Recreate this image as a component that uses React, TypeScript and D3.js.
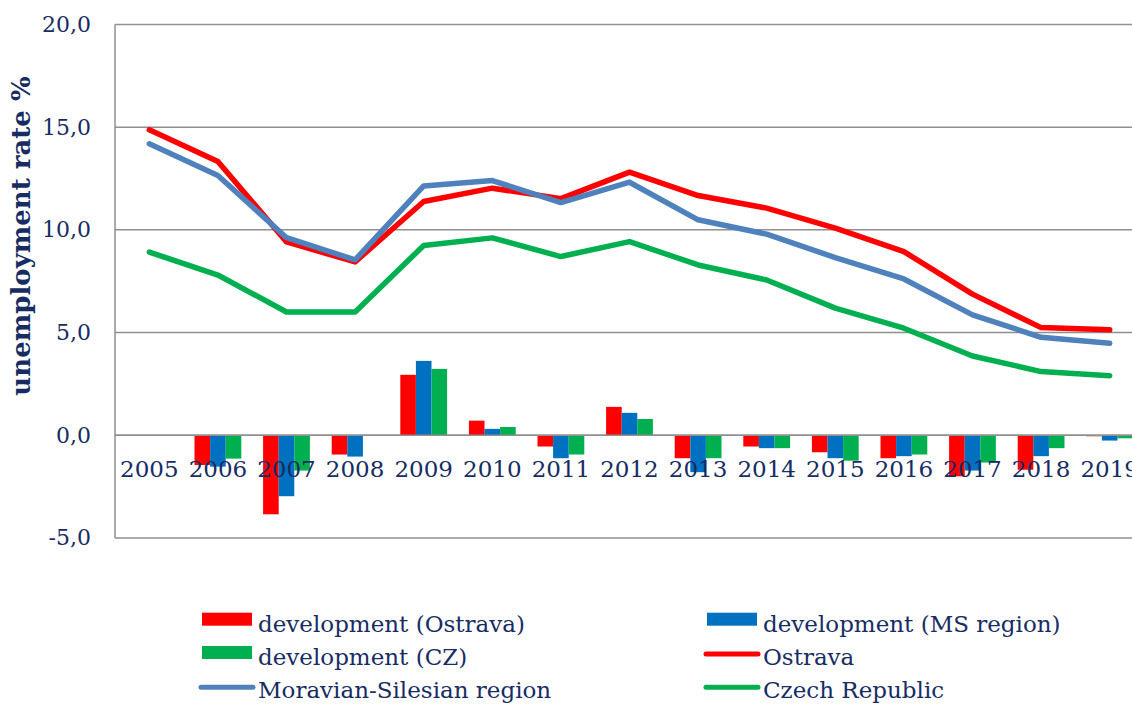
import React from "react";
import * as d3 from "d3";

const years = ["2005","2006","2007","2008","2009","2010","2011","2012","2013","2014","2015","2016","2017","2018","2019"];
const ostrava = [14.87, 13.33, 9.41, 8.44, 11.38, 12.03, 11.52, 12.81, 11.67, 11.06, 10.08, 8.94, 6.87, 5.24, 5.13];
const msRegion = [14.19, 12.65, 9.62, 8.54, 12.14, 12.4, 11.33, 12.32, 10.49, 9.79, 8.65, 7.61, 5.86, 4.77, 4.48];
const czech = [8.92, 7.8, 6.0, 6.0, 9.24, 9.61, 8.7, 9.43, 8.29, 7.56, 6.19, 5.21, 3.86, 3.1, 2.9];
const devOstrava = [0, -1.45, -3.85, -0.94, 2.94, 0.71, -0.55, 1.38, -1.12, -0.55, -0.83, -1.12, -2.0, -1.68, -0.05];
const devMS = [0, -1.53, -2.97, -1.04, 3.62, 0.31, -1.12, 1.09, -1.8, -0.63, -1.12, -1.02, -1.72, -1.02, -0.26];
const devCZ = [0, -1.14, -1.72, 0, 3.23, 0.4, -0.94, 0.79, -1.12, -0.63, -1.24, -0.94, -1.33, -0.63, -0.15];
const yTicks = [-5, 0, 5, 10, 15, 20];

const TEXT = "#172c63";
const FONT = "'DejaVu Serif', serif";
const GRID = "#8f8f8f";

const barSeries = [
  { name: "development (Ostrava)", values: devOstrava, color: "#ff0000" },
  { name: "development (MS region)", values: devMS, color: "#0070c0" },
  { name: "development (CZ)", values: devCZ, color: "#00b050" },
];
const lineSeries = [
  { name: "Ostrava", values: ostrava, color: "#ff0000" },
  { name: "Moravian-Silesian region", values: msRegion, color: "#4f81bd" },
  { name: "Czech Republic", values: czech, color: "#00b050" },
];

export default function App() {
  const W = 1132, H = 704;
  const left = 115;
  const bandW = 68.6;
  const x = d3.scaleBand<string>().domain(years).range([left, left + bandW * years.length]).paddingInner(0).paddingOuter(0);
  const y = d3.scaleLinear().domain([-5, 20]).range([537.9, 24.5]);
  const groupPad = 0.159;
  const xInner = d3.scaleBand<number>().domain([0, 1, 2]).range([x.bandwidth() * groupPad, x.bandwidth() * (1 - groupPad)]).padding(0);
  const fmt = (v: number) => d3.format(".1f")(v).replace(".", ",").replace("\u2212", "-");

  const lineGen = (vals: number[]) =>
    d3.line<number>().x((_, i) => (x(years[i]) as number) + x.bandwidth() / 2).y((v) => y(v))(vals) || "";

  const legendItems = [
    { kind: "bar", s: barSeries[0], col: 0, row: 0 },
    { kind: "bar", s: barSeries[1], col: 1, row: 0 },
    { kind: "bar", s: barSeries[2], col: 0, row: 1 },
    { kind: "line", s: lineSeries[0], col: 1, row: 1 },
    { kind: "line", s: lineSeries[1], col: 0, row: 2 },
    { kind: "line", s: lineSeries[2], col: 1, row: 2 },
  ];
  const colX = [202, 707];
  const rowBase = [631.7, 665, 698.3];

  return (
    <svg width={W} height={H} style={{ position: "absolute", left: 0, top: 0, background: "#fff" }} fontFamily={FONT}>
      {yTicks.map((t) => (
        <line key={t} x1={left} x2={W + 20} y1={y(t)} y2={y(t)} stroke={GRID} strokeWidth={1.5} />
      ))}
      <line x1={left} x2={left} y1={y(20)} y2={y(-5)} stroke={GRID} strokeWidth={1.5} />
      {yTicks.map((t) => (
        <text key={t} x={91} y={y(t) + 7.5} textAnchor="end" fontSize={22} fill={TEXT}>{fmt(t)}</text>
      ))}
      {barSeries.map((s, si) =>
        s.values.map((v, i) => {
          const bx = (x(years[i]) as number) + (xInner(si) as number);
          const y0 = y(0), y1 = y(v);
          return (
            <rect key={s.name + i} x={bx} width={xInner.bandwidth()} y={Math.min(y0, y1)} height={Math.abs(y1 - y0)} fill={s.color} />
          );
        })
      )}
      <line x1={left} x2={W + 20} y1={y(0)} y2={y(0)} stroke={GRID} strokeWidth={1.5} />
      {years.map((yr) => (
        <text key={yr} x={(x(yr) as number) + x.bandwidth() / 2} y={477} textAnchor="middle" fontSize={23} fill={TEXT}>{yr}</text>
      ))}
      {lineSeries.map((s) => (
        <path key={s.name} d={lineGen(s.values)} fill="none" stroke={s.color} strokeWidth={5.5} strokeLinejoin="round" strokeLinecap="round" />
      ))}
      <text transform={`translate(30,236) rotate(-90)`} textAnchor="middle" fontSize={26} fontWeight="bold" fill={TEXT}>unemployment rate %</text>
      {legendItems.map((it, k) => {
        const bx = colX[it.col];
        const base = rowBase[it.row];
        return (
          <g key={k}>
            {it.kind === "bar" ? (
              <rect x={bx} y={base - 19} width={50} height={13} fill={it.s.color} />
            ) : (
              <line x1={bx - 1} x2={bx + 51} y1={base - 11} y2={base - 11} stroke={it.s.color} strokeWidth={5} strokeLinecap="round" />
            )}
            <text x={bx + 56} y={base} fontSize={23} fill={TEXT}>{it.s.name}</text>
          </g>
        );
      })}
    </svg>
  );
}
